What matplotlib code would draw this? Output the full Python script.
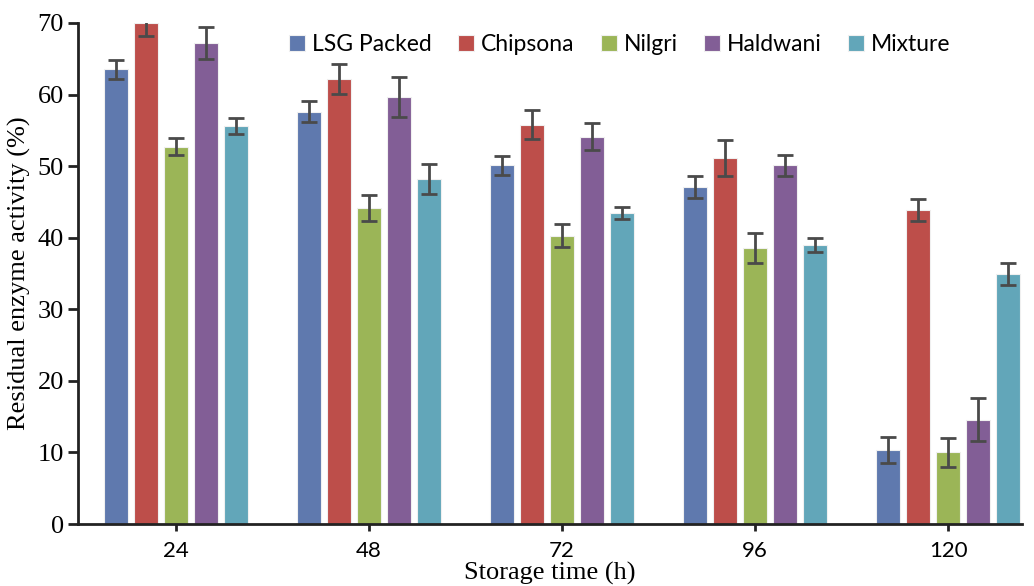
import numpy as np
import matplotlib.pyplot as plt

# storage time groups
hours = ['24', '48', '72', '96', '120']
samples = ['LSG Packed', 'Chipsona', 'Nilgri', 'Haldwani', 'Mixture']

# residual activity (%) and error
lsg = [63.5, 57.6, 50.1, 47.1, 10.3]
lsg_err = [1.3, 1.5, 1.3, 1.5, 1.8]
chipsona = [70.0, 62.2, 55.8, 51.1, 43.9]
chipsona_err = [1.8, 2.1, 2.0, 2.5, 1.5]
nilgri = [52.7, 44.2, 40.3, 38.6, 10.0]
nilgri_err = [1.2, 1.8, 1.6, 2.1, 2.0]
haldwani = [67.2, 59.7, 54.1, 50.1, 14.6]
haldwani_err = [2.2, 2.8, 1.9, 1.5, 3.0]
mixture = [55.6, 48.2, 43.5, 39.0, 34.9]
mixture_err = [1.1, 2.1, 0.85, 1.0, 1.5]

vals = [lsg, chipsona, nilgri, haldwani, mixture]
errs = [lsg_err, chipsona_err, nilgri_err, haldwani_err, mixture_err]
colors = ['#5f79ae', '#bd4e4a', '#9bb557', '#825e96', '#62a6b9']

fig = plt.figure(figsize=(10.34, 5.86), dpi=100)
ax = fig.add_axes([0.0754, 0.1058, 0.9126, 0.855])

x = np.arange(len(hours))
step = 0.1554
w = 0.124
for j in range(5):
    ax.bar(x + (j - 2) * step, vals[j], w, color=colors[j], edgecolor='#f0f0f0',
           linewidth=0.8, label=samples[j],
           yerr=errs[j], capsize=5.5,
           error_kw=dict(ecolor='#4a4a4a', elinewidth=2, capthick=2))

ax.set_ylim(0, 70)
ax.set_xlim(-0.508, 4.38)
ax.set_yticks(range(0, 71, 10))
ax.set_xticks(x)
ax.set_xticklabels(hours, family='Lato', fontsize=16)
for t in ax.get_yticklabels():
    t.set_family('Liberation Serif')
    t.set_fontsize(19)
ax.tick_params(axis='y', length=7, width=2, color='#222222', pad=3)
ax.tick_params(axis='x', length=5, width=2, color='#222222', pad=7)

for s in ['top', 'right']:
    ax.spines[s].set_visible(False)
for s in ['left', 'bottom']:
    ax.spines[s].set_linewidth(2)
    ax.spines[s].set_color('#222222')

ax.set_ylabel('Residual enzyme activity (%)', family='Liberation Serif', fontsize=19, labelpad=5)
ax.set_xlabel('Storage time (h)', family='Liberation Serif', fontsize=19, labelpad=1)

ax.legend(loc='upper center', bbox_to_anchor=(0.574, 1.02), ncol=5, frameon=False,
          prop={'family': 'Lato', 'size': 16.5}, handlelength=0.7, handleheight=0.7,
          handletextpad=0.3, columnspacing=1.15)

fig.savefig('out.png', dpi=100)
